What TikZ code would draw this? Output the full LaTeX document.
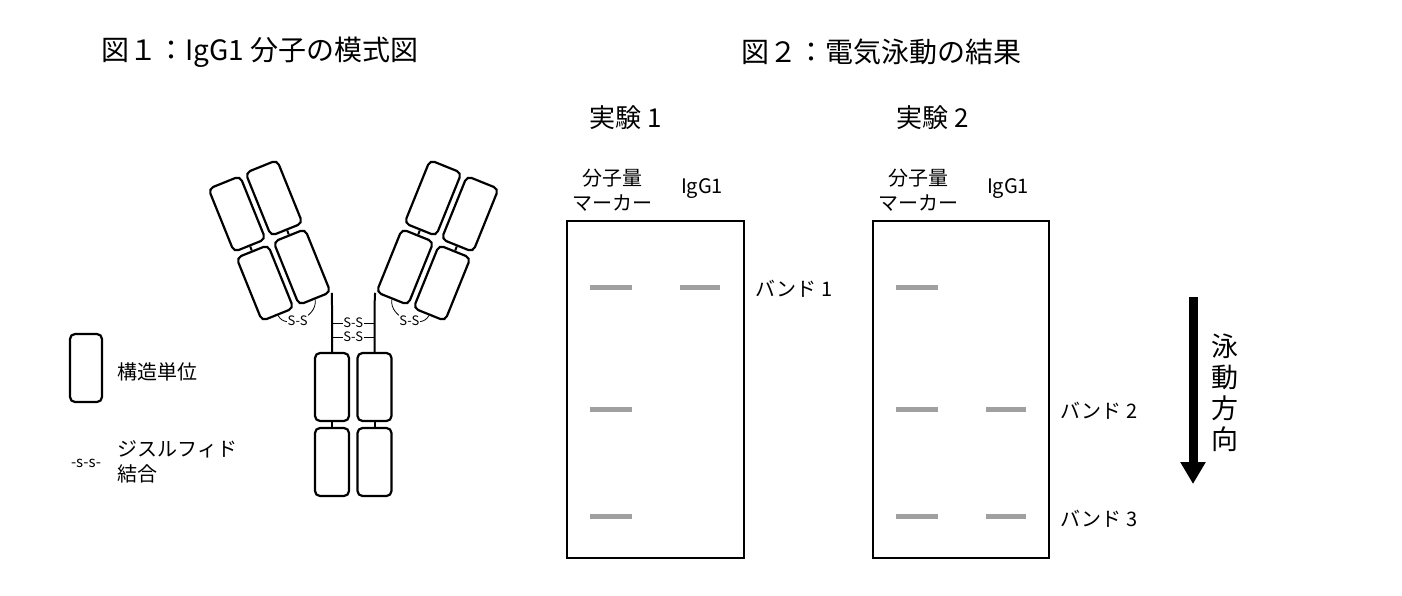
\documentclass[tikz,border=0pt]{standalone}
\usepackage{fontspec}
\setmainfont{Noto Sans CJK JP}
\usetikzlibrary{arrows.meta}
\begin{document}
\begin{tikzpicture}[x=1pt,y=-1pt,
  box/.style={draw,line width=2.2pt,rounded corners=5pt,minimum width=34pt,minimum height=68pt,inner sep=0pt},
  lnk/.style={line width=2pt},
  ss/.style={fill=white,inner sep=0.5pt,font=\fontsize{13}{13}\selectfont},
  band/.style={line width=5pt,draw={rgb,255:red,160;green,160;blue,160}},
  gel/.style={draw,line width=1.4pt},
  title/.style={font=\fontsize{28}{30}\selectfont,anchor=west},
  lab/.style={font=\fontsize{20}{25}\selectfont},
  head/.style={font=\fontsize{26}{28}\selectfont}]
\useasboundingbox (0,0) rectangle (1402,596);
% titles
\node[title] (t1) at (98,52) {図１：IgG1 分子の模式図};
\node[title] (t2) at (738,52) {図２：電気泳動の結果};
% stem
\node[box] (s1) at (332,387) {};
\node[box] (s2) at (332,462) {};
\node[box] (s3) at (374.5,387) {};
\node[box] (s4) at (374.5,462) {};
\draw[lnk] (s1) -- (s2);
\draw[lnk] (s3) -- (s4);
% left arm
\node[box,rotate=22] (lul) at (237,214) {};
\node[box,rotate=22] (lur) at (274,198) {};
\node[box,rotate=22] (lll) at (265,283) {};
\node[box,rotate=22] (llr) at (302,267) {};
\draw[lnk] (lul) -- (lll);
\draw[lnk] (lur) -- (llr);
% right arm
\node[box,rotate=-22] (rur) at (470,214) {};
\node[box,rotate=-22] (rul) at (433,198) {};
\node[box,rotate=-22] (rlr) at (442,283) {};
\node[box,rotate=-22] (rll) at (405,267) {};
\draw[lnk] (rur) -- (rlr);
\draw[lnk] (rul) -- (rll);
% hinge
\coordinate (hl) at (332,306);
\coordinate (hr) at (374.5,306);
\draw[lnk] (llr.south east) -- (hl) -- (s1.north);
\draw[lnk] (rll.south west) -- (hr) -- (s3.north);
\coordinate (a1) at (332,323); \coordinate (b1) at (374.5,323);
\coordinate (a2) at (332,337); \coordinate (b2) at (374.5,337);
\draw[line width=0.8pt] (a1) -- node[ss] (ssa) {S-S} (b1);
\draw[line width=0.8pt] (a2) -- node[ss] (ssb) {S-S} (b2);
\draw[line width=0.8pt] (lll.south) .. controls (285,330) and (318,318) .. (llr.south) node[ss,pos=0.45] (ssl) {S-S};
\draw[line width=0.8pt] (rlr.south) .. controls (422,330) and (389,318) .. (rll.south) node[ss,pos=0.45] (ssr) {S-S};
% legend
\node[box,minimum width=32pt,minimum height=68pt] (lg) at (86,368) {};
\node[lab,anchor=west] (lgt) at (114,372) {構造単位};
\node[font=\fontsize{15}{15}\selectfont] (lgs) at (86,463) {-s-s-};
\node[lab,anchor=west,align=left] (lgt2) at (114,462) {ジスルフィド\\結合};
% gels
\node[head] (e1) at (626,118) {実験 1};
\node[head] (e2) at (933,118) {実験 2};
\node[lab,align=center] (m1) at (612,190) {分子量\\マーカー};
\node[lab] (i1) at (702,189) {IgG1};
\node[lab,align=center] (m2) at (918,190) {分子量\\マーカー};
\node[lab] (i2) at (1008,189) {IgG1};
\draw[gel] (567,221) rectangle (744,558);
\draw[gel] (873,221) rectangle (1049,558);
\draw[band] (590,287) -- (632,287);
\draw[band] (680,287) -- (720,287);
\draw[band] (590,409) -- (632,409);
\draw[band] (590,516) -- (632,516);
\draw[band] (896,287) -- (938,287);
\draw[band] (896,409) -- (938,409);
\draw[band] (896,516) -- (938,516);
\draw[band] (986,409) -- (1026,409);
\draw[band] (986,516) -- (1026,516);
\node[lab,anchor=west] (bd1) at (752,289) {バンド 1};
\node[lab,anchor=west] (bd2) at (1057,411) {バンド 2};
\node[lab,anchor=west] (bd3) at (1057,519) {バンド 3};
% arrow
\coordinate (ar1) at (1193,297);
\coordinate (ar2) at (1193,484);
\draw[line width=9pt,-{Triangle[width=24pt,length=22pt]}] (ar1) -- (ar2);
\node[font=\fontsize{27}{31}\selectfont,align=center] (dir) at (1225,393) {泳\\動\\方\\向};
\end{tikzpicture}
\end{document}
